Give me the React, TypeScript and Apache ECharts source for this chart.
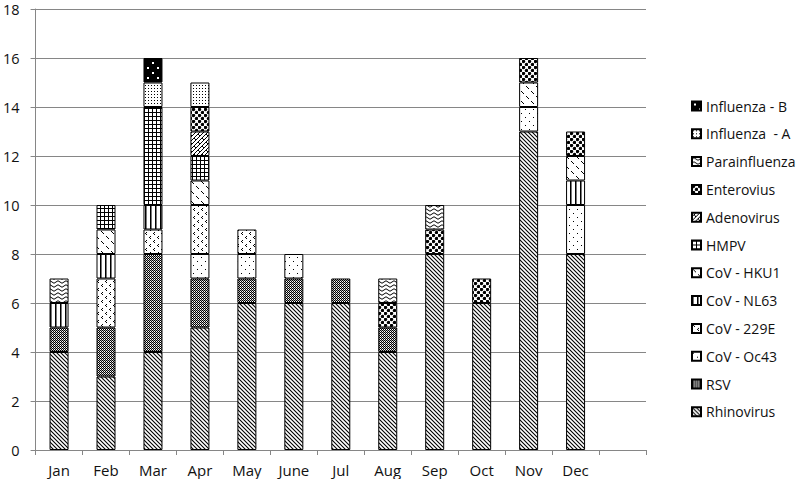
import { useEffect, useRef } from 'react';
import * as echarts from 'echarts';

const months = ['Jan', 'Feb', 'Mar', 'Apr', 'May', 'June', 'Jul', 'Aug', 'Sep', 'Oct', 'Nov', 'Dec', ''];
const yTicks = { min: 0, max: 18, interval: 2 };

const rhinovirus = [4, 3, 4, 5, 6, 6, 6, 4, 8, 6, 13, 8];
const rsv = [1, 2, 4, 2, 1, 1, 1, 1, 0, 0, 0, 0];
const covOc43 = [0, 0, 0, 1, 1, 1, 0, 0, 0, 0, 1, 2];
const cov229E = [0, 2, 1, 2, 1, 0, 0, 0, 0, 0, 0, 0];
const covNL63 = [1, 1, 1, 0, 0, 0, 0, 0, 0, 0, 0, 1];
const covHKU1 = [0, 1, 0, 1, 0, 0, 0, 0, 0, 0, 1, 1];
const hmpv = [0, 1, 4, 1, 0, 0, 0, 0, 0, 0, 0, 0];
const adenovirus = [0, 0, 0, 1, 0, 0, 0, 0, 0, 0, 0, 0];
const enterovius = [0, 0, 0, 1, 0, 0, 0, 1, 1, 1, 1, 1];
const parainfluenza = [1, 0, 0, 0, 0, 0, 0, 1, 1, 0, 0, 0];
const influenzaA = [0, 0, 1, 1, 0, 0, 0, 0, 0, 0, 0, 0];
const influenzaB = [0, 0, 1, 0, 0, 0, 0, 0, 0, 0, 0, 0];

const seriesNames = [
  'Rhinovirus', 'RSV', 'CoV - Oc43', 'CoV - 229E', 'CoV - NL63', 'CoV - HKU1',
  'HMPV', 'Adenovirus', 'Enterovius', 'Parainfluenza', 'Influenza  - A', 'Influenza - B',
];
const seriesValues = [
  rhinovirus, rsv, covOc43, cov229E, covNL63, covHKU1,
  hmpv, adenovirus, enterovius, parainfluenza, influenzaA, influenzaB,
];

type Draw = (ctx: CanvasRenderingContext2D) => void;

function makePattern(w: number, h: number, draw: Draw, bg = '#ffffff') {
  const c = document.createElement('canvas');
  c.width = w;
  c.height = h;
  const ctx = c.getContext('2d') as CanvasRenderingContext2D;
  ctx.fillStyle = bg;
  ctx.fillRect(0, 0, w, h);
  ctx.fillStyle = '#000';
  ctx.strokeStyle = '#000';
  draw(ctx);
  return { image: c, repeat: 'repeat', imageWidth: w, imageHeight: h } as any;
}

function buildPatterns() {
  return [
    // Rhinovirus: dense "\" hatch
    makePattern(4, 4, (ctx) => {
      ctx.lineWidth = 1.1;
      ctx.beginPath();
      ctx.moveTo(-1, -1); ctx.lineTo(5, 5);
      ctx.moveTo(-1, 3); ctx.lineTo(1, 5);
      ctx.moveTo(3, -1); ctx.lineTo(5, 1);
      ctx.stroke();
    }),
    // RSV: dark checker
    makePattern(2, 2, (ctx) => {
      ctx.fillRect(0, 0, 1, 1);
      ctx.fillRect(1, 1, 1, 1);
      ctx.fillStyle = '#aaa';
      ctx.fillRect(1, 0, 1, 1);
    }),
    // CoV - Oc43: sparse dots
    makePattern(8, 8, (ctx) => {
      ctx.fillRect(1, 1, 1, 1);
      ctx.fillRect(5, 5, 1, 1);
    }),
    // CoV - 229E: small chevrons
    makePattern(8, 8, (ctx) => {
      ctx.fillRect(2, 0, 1, 1); ctx.fillRect(1, 1, 1, 1); ctx.fillRect(2, 2, 1, 1);
      ctx.fillRect(6, 4, 1, 1); ctx.fillRect(5, 5, 1, 1); ctx.fillRect(6, 6, 1, 1);
    }),
    // CoV - NL63: vertical lines
    makePattern(5, 2, (ctx) => {
      ctx.fillRect(0, 0, 1, 2);
      ctx.fillStyle = '#777';
      ctx.fillRect(1, 0, 1, 2);
    }),
    // CoV - HKU1: sparse dashes
    makePattern(10, 10, (ctx) => {
      ctx.lineWidth = 1;
      ctx.beginPath();
      ctx.moveTo(1, 1); ctx.lineTo(4, 4);
      ctx.moveTo(6, 6); ctx.lineTo(9, 9);
      ctx.stroke();
    }),
    // HMPV: small grid
    makePattern(4, 4, (ctx) => {
      ctx.fillRect(0, 0, 4, 1);
      ctx.fillRect(0, 0, 1, 4);
    }),
    // Adenovirus: diagonal brick
    makePattern(8, 8, (ctx) => {
      ctx.lineWidth = 1;
      ctx.beginPath();
      ctx.moveTo(-1, 9); ctx.lineTo(9, -1);
      ctx.moveTo(-1, 5); ctx.lineTo(5, -1);
      ctx.moveTo(3, 9); ctx.lineTo(9, 3);
      ctx.moveTo(2, 2); ctx.lineTo(4, 4);
      ctx.moveTo(6, 6); ctx.lineTo(8, 8);
      ctx.stroke();
    }),
    // Enterovius: dense large dots
    makePattern(6, 6, (ctx) => {
      ctx.beginPath();
      ctx.arc(1.5, 1.5, 1.7, 0, Math.PI * 2);
      ctx.fill();
      ctx.beginPath();
      ctx.arc(4.5, 4.5, 1.7, 0, Math.PI * 2);
      ctx.fill();
    }),
    // Parainfluenza: waves
    makePattern(8, 4, (ctx) => {
      ctx.lineWidth = 1;
      ctx.beginPath();
      ctx.moveTo(0, 2);
      ctx.quadraticCurveTo(2, -0.5, 4, 2);
      ctx.quadraticCurveTo(6, 4.5, 8, 2);
      ctx.stroke();
    }),
    // Influenza - A: small dot grid
    makePattern(3, 3, (ctx) => {
      ctx.fillRect(1, 1, 1, 1);
    }),
    // Influenza - B: black with white dots
    makePattern(10, 10, (ctx) => {
      ctx.fillStyle = '#fff';
      ctx.fillRect(2, 2, 2, 2);
      ctx.fillRect(7, 7, 2, 2);
    }, '#000'),
  ];
}

export default function App() {
  const ref = useRef<HTMLDivElement>(null);

  useEffect(() => {
    if (!ref.current) return;
    const chart = echarts.init(ref.current, undefined, { renderer: 'svg' });
    const patterns = buildPatterns();
    const font = '"Open Sans", "Liberation Sans", sans-serif';

    const series = seriesNames.map((name, i) => ({
      name,
      type: 'bar',
      stack: 'total',
      barWidth: 19,
      data: seriesValues[i].map((v) => (v === 0 ? null : v)),
      itemStyle: { color: patterns[i], borderColor: '#000', borderWidth: 1 },
      emphasis: { disabled: true },
    }));

    chart.setOption({
      animation: false,
      backgroundColor: '#fff',
      grid: { left: 35, right: 154, top: 9, bottom: 29, containLabel: false },
      legend: {
        orient: 'vertical',
        left: 686,
        top: 93,
        icon: 'rect',
        itemWidth: 9,
        itemHeight: 9,
        itemGap: 11.8,
        data: seriesNames.slice().reverse(),
        textStyle: { fontFamily: font, fontSize: 14, color: '#111', lineHeight: 16 },
      },
      xAxis: {
        type: 'category',
        data: months,
        boundaryGap: true,
        axisLine: { lineStyle: { color: '#868686', width: 1 } },
        axisTick: { show: true, length: 5, lineStyle: { color: '#868686' } },
        axisLabel: { fontFamily: font, fontSize: 15, color: '#111', margin: 12 },
      },
      yAxis: {
        type: 'value',
        min: yTicks.min,
        max: yTicks.max,
        interval: yTicks.interval,
        axisLine: { show: true, lineStyle: { color: '#868686', width: 1 } },
        axisTick: { show: true, length: 5, lineStyle: { color: '#868686' } },
        splitLine: { show: true, lineStyle: { color: '#868686', width: 1 } },
        axisLabel: { fontFamily: font, fontSize: 14.5, color: '#111', margin: 16 },
      },
      series,
    });

    return () => chart.dispose();
  }, []);

  return <div ref={ref} style={{ width: 800, height: 479, position: 'absolute', left: 0, top: 0 }} />;
}
